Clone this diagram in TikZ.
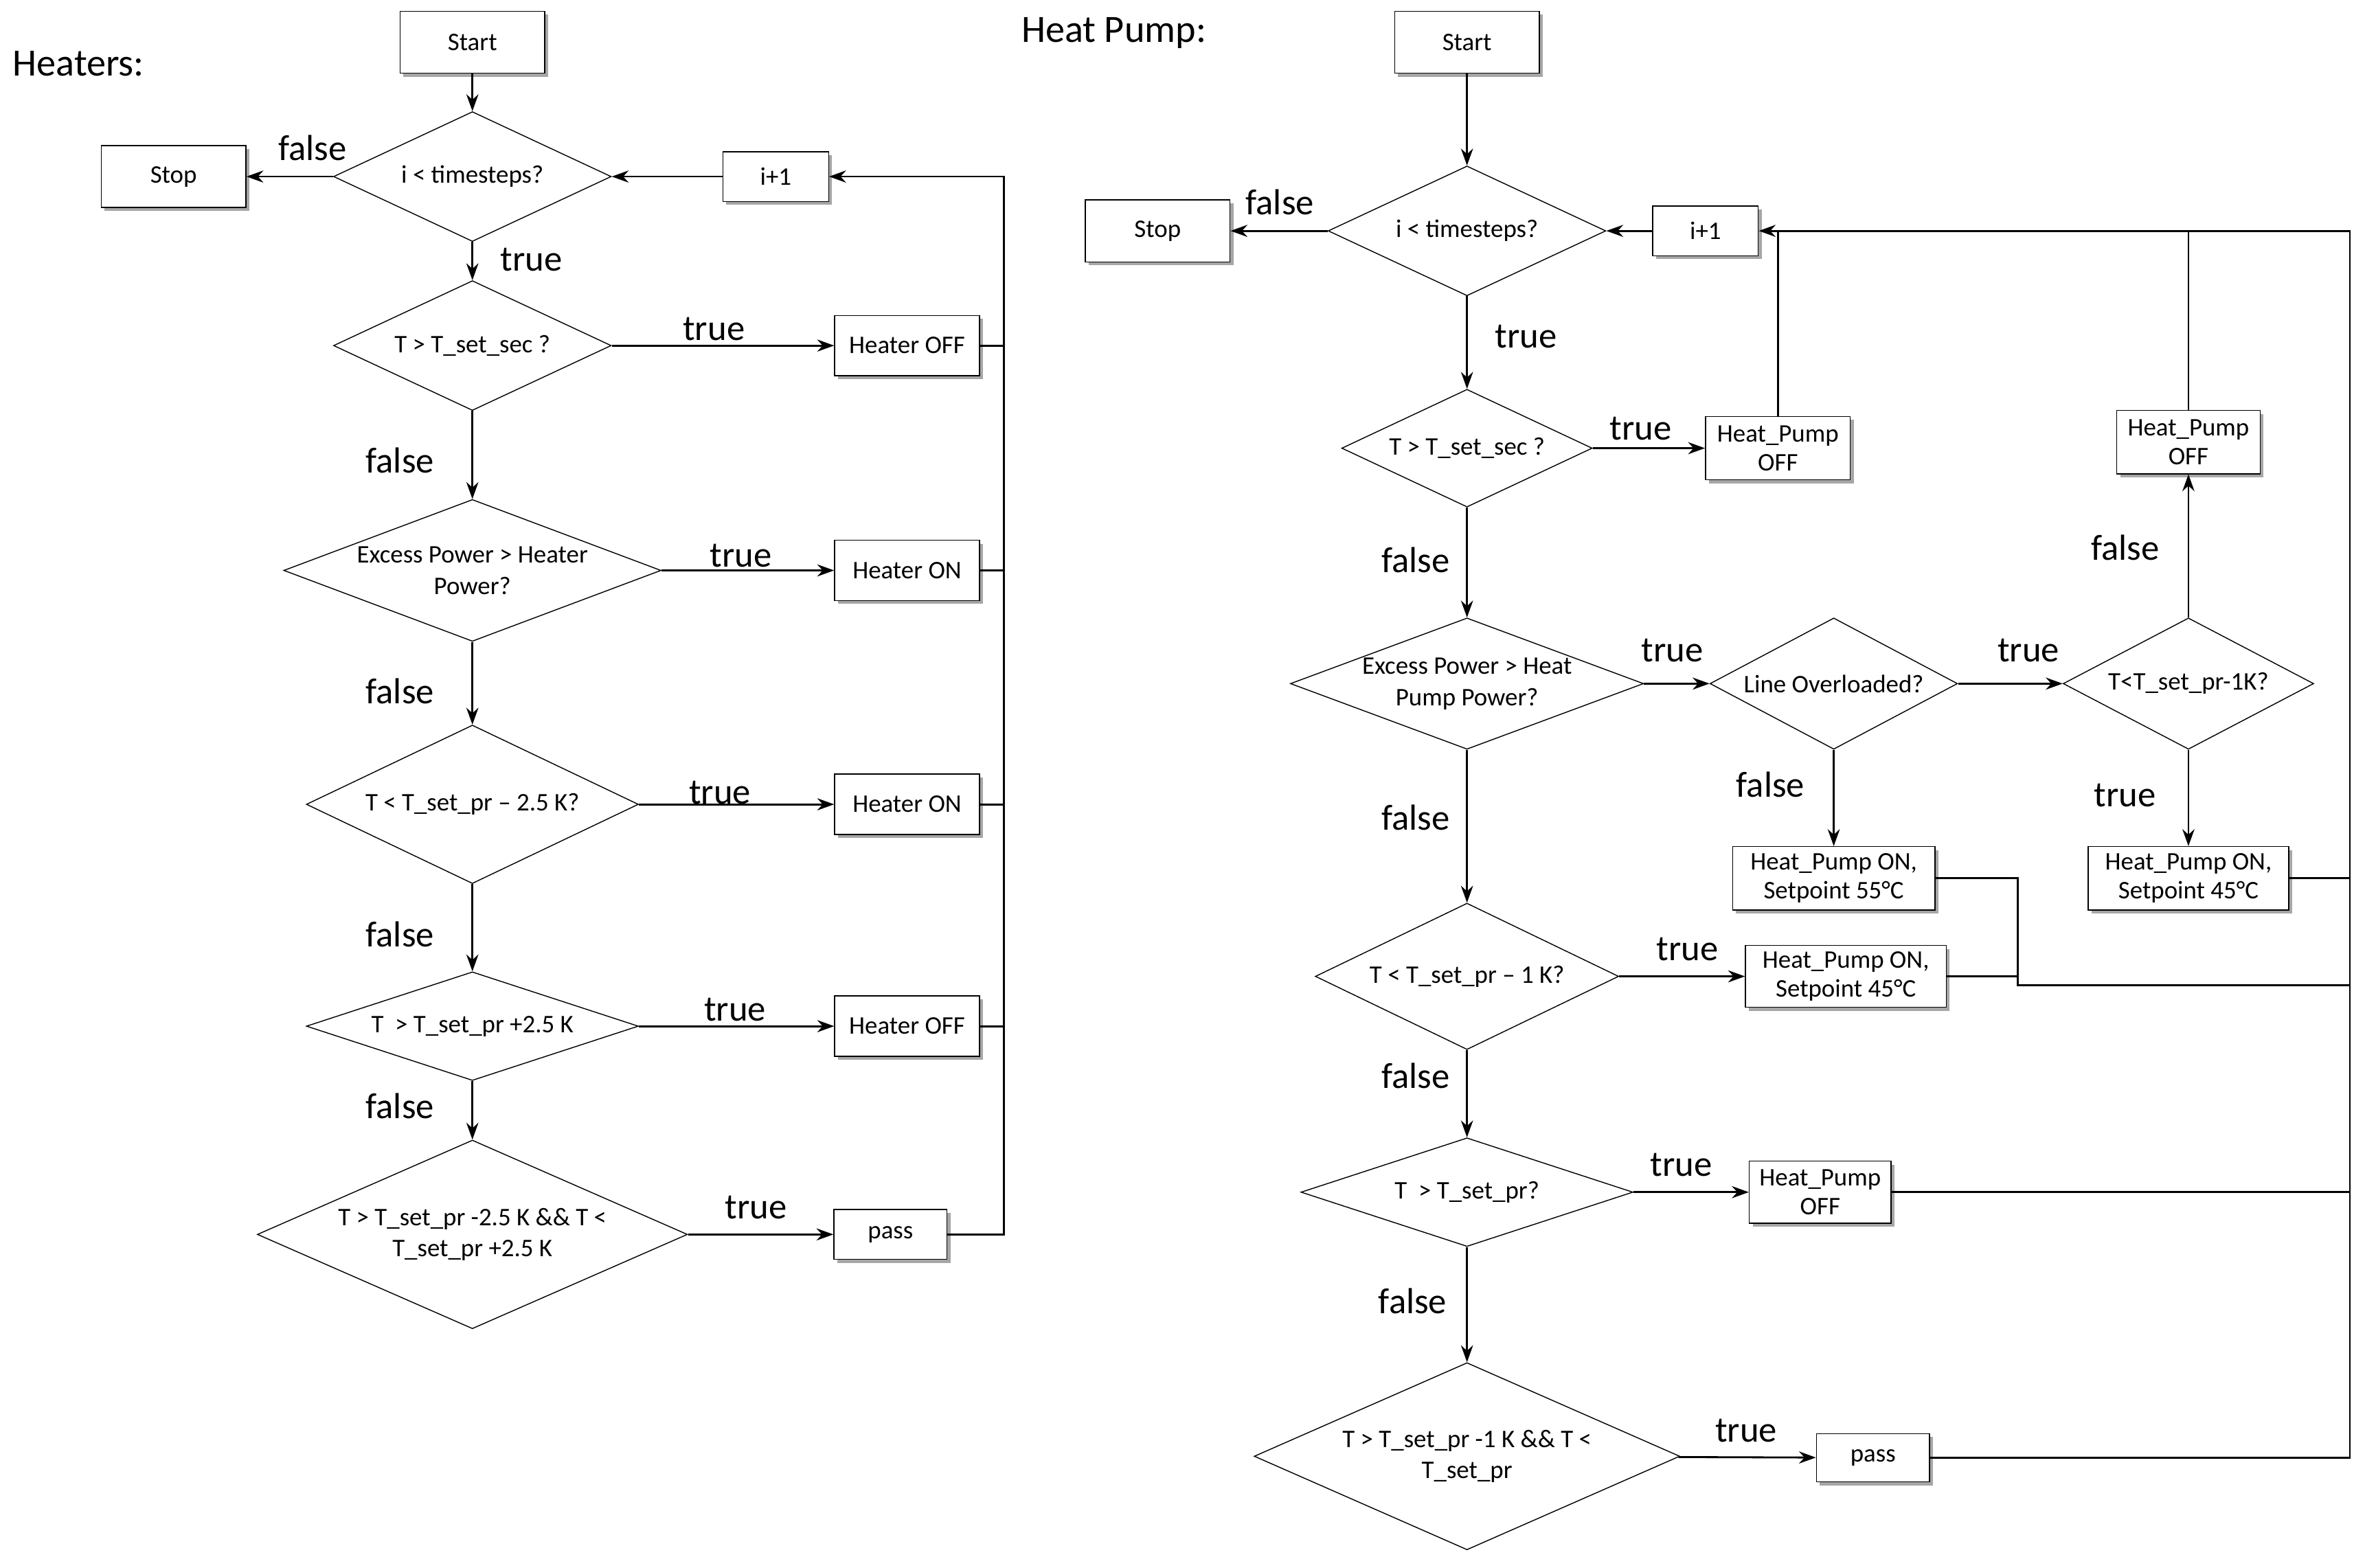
\documentclass[tikz,border=0pt]{standalone}
\usepackage{fontspec}
\setmainfont{Carlito}
\usetikzlibrary{shapes.geometric,shadows,arrows.meta}
\def\U{0.02197cm}
\begin{document}
\begin{tikzpicture}[x=0.02197cm,y=-0.02197cm,
 box/.style={draw,fill=white,font=\fontsize{10.5}{12}\selectfont,align=center,inner sep=0pt,
   drop shadow={shadow xshift=0.05cm,shadow yshift=-0.05cm,fill=gray!70,opacity=1}},
 dia/.style 2 args={draw,diamond,inner sep=0pt,font=\fontsize{10.5}{13}\selectfont,align=center,
   minimum width=#1*\U,minimum height=#2*\U,/utils/exec={\pgfmathsetmacro\myasp{#1/#2}},aspect=\myasp},
 lab/.style={font=\fontsize{15}{16}\selectfont},
 arr/.style={-{Stealth[length=7pt,width=5pt]},line width=0.8pt},
 ln/.style={line width=0.8pt}]
\useasboundingbox (0,0) rectangle (1567,1039);
\node[font=\fontsize{16}{18}\selectfont] (t1) at (52,42) {Heaters:};
\node[font=\fontsize{16}{18}\selectfont] (t2) at (738,22) {Heat Pump:};
% Left
\node[box,minimum width=96*\U,minimum height=41*\U] (ls) at (313,28) {Start};
\node[dia={184}{86}] (l1) at (313,117) {i < timesteps?};
\node[box,minimum width=96*\U,minimum height=41*\U] (lstop) at (115,117) {Stop};
\node[box,minimum width=70*\U,minimum height=33*\U] (li) at (514,117) {i+1};
\node[dia={184}{86}] (l2) at (313,229) {T > T\_set\_sec ?};
\node[box,minimum width=96*\U,minimum height=40*\U] (lb2) at (601,229) {Heater OFF};
\node[dia={250}{94}] (l3) at (313,378) {Excess Power > Heater\\Power?};
\node[box,minimum width=96*\U,minimum height=40*\U] (lb3) at (601,378) {Heater ON};
\node[dia={220}{105}] (l4) at (313,533) {T < T\_set\_pr – 2.5 K?};
\node[box,minimum width=96*\U,minimum height=40*\U] (lb4) at (601,533) {Heater ON};
\node[dia={220}{72}] (l5) at (313,680) {T \ > T\_set\_pr +2.5 K};
\node[box,minimum width=96*\U,minimum height=40*\U] (lb5) at (601,680) {Heater OFF};
\node[dia={285}{125}] (l6) at (313,818) {T > T\_set\_pr -2.5 K \&\& T <\\T\_set\_pr +2.5 K};
\node[box,minimum width=75*\U,minimum height=33*\U] (lp) at (590,818) {pass};
\coordinate (lr1) at (665,117);
\coordinate (lr2) at (665,818);
\draw[arr] (ls) -- (l1);
\draw[arr] (l1) -- (lstop);
\draw[arr] (li) -- (l1);
\draw[arr] (l1) -- (l2);
\draw[arr] (l2) -- (lb2);
\draw[arr] (l2) -- (l3);
\draw[arr] (l3) -- (lb3);
\draw[arr] (l3) -- (l4);
\draw[arr] (l4) -- (lb4);
\draw[arr] (l4) -- (l5);
\draw[arr] (l5) -- (lb5);
\draw[arr] (l5) -- (l6);
\draw[arr] (l6) -- (lp);
\draw[arr] (lp.east) -- (lr2) -- (lr1) -- (li);
\foreach \n in {lb2,lb3,lb4,lb5} \draw[ln] (\n.east) -- (lr1|-\n.east);
\node[lab] at (207,98) {false};
\node[lab] at (352,172) {true};
\node[lab] at (473,218) {true};
\node[lab] at (265,305) {false};
\node[lab] at (491,368) {true};
\node[lab] at (265,458) {false};
\node[lab] at (477,525) {true};
\node[lab] at (265,619) {false};
\node[lab] at (487,669) {true};
\node[lab] at (265,733) {false};
\node[lab] at (501,800) {true};
% Right
\node[box,minimum width=96*\U,minimum height=41*\U] (rs) at (972,28) {Start};
\node[dia={184}{86}] (r1) at (972,153) {i < timesteps?};
\node[box,minimum width=96*\U,minimum height=41*\U] (rstop) at (767,153) {Stop};
\node[box,minimum width=70*\U,minimum height=33*\U] (ri) at (1130,153) {i+1};
\node[dia={166}{78}] (r2) at (972,297) {T > T\_set\_sec ?};
\node[box,minimum width=96*\U,minimum height=42*\U] (rb2) at (1178,297) {Heat\_Pump\\OFF};
\node[dia={234}{87}] (r3) at (972,453) {Excess Power > Heat\\Pump Power?};
\node[dia={164}{87}] (rlo) at (1215,453) {Line Overloaded?};
\node[dia={166}{87}] (rt) at (1450,453) {T<T\_set\_pr-1K?};
\node[box,minimum width=95*\U,minimum height=42*\U] (rtoff) at (1450,293) {Heat\_Pump\\OFF};
\node[box,minimum width=133*\U,minimum height=42*\U] (rton) at (1450,582) {Heat\_Pump ON,\\Setpoint 45°C};
\node[box,minimum width=134*\U,minimum height=42*\U] (rlon) at (1215,582) {Heat\_Pump ON,\\Setpoint 55°C};
\node[dia={201}{97}] (r4) at (972,647) {T < T\_set\_pr – 1 K?};
\node[box,minimum width=133*\U,minimum height=41*\U] (rb4) at (1223,647) {Heat\_Pump ON,\\Setpoint 45°C};
\node[dia={220}{72}] (r5) at (972,790) {T \ > T\_set\_pr?};
\node[box,minimum width=94*\U,minimum height=41*\U] (rb5) at (1206,790) {Heat\_Pump\\OFF};
\node[dia={282}{124}] (r6) at (972,965) {T > T\_set\_pr -1 K \&\& T <\\T\_set\_pr};
\node[box,minimum width=75*\U,minimum height=32*\U] (rp) at (1241,966) {pass};
\coordinate (rr1) at (1557,153);
\coordinate (rr2) at (1557,966);
\coordinate (rj) at (1337,653);
\draw[arr] (rs) -- (r1);
\draw[arr] (r1) -- (rstop);
\draw[arr] (ri) -- (r1);
\draw[arr] (r1) -- (r2);
\draw[arr] (r2) -- (rb2);
\draw[arr] (r2) -- (r3);
\draw[arr] (r3) -- (rlo);
\draw[arr] (rlo) -- (rt);
\draw[arr] (rt) -- (rtoff);
\draw[arr] (rt) -- (rton);
\draw[arr] (rlo) -- (rlon);
\draw[arr] (r3) -- (r4);
\draw[arr] (r4) -- (rb4);
\draw[arr] (r4) -- (r5);
\draw[arr] (r5) -- (rb5);
\draw[arr] (r5) -- (r6);
\draw[arr] (r6) -- (rp);
\draw[arr] (rp.east) -- (rr2) -- (rr1) -- (ri);
\draw[ln] (rb2.north) -- (rb2.north|-rr1);
\draw[ln] (rtoff.north) -- (rtoff.north|-rr1);
\draw[ln] (rton.east) -- (rr1|-rton.east);
\draw[ln] (rlon.east) -- (rj|-rlon.east) -- (rj) -- (rr1|-rj);
\draw[ln] (rb4.east) -- (rj|-rb4.east);
\draw[ln] (rb5.east) -- (rr1|-rb5.east);
\node[lab] at (848,134) {false};
\node[lab] at (1011,223) {true};
\node[lab] at (1087,284) {true};
\node[lab] at (938,371) {false};
\node[lab] at (1108,431) {true};
\node[lab] at (1344,431) {true};
\node[lab] at (1408,363) {false};
\node[lab] at (1173,520) {false};
\node[lab] at (1408,527) {true};
\node[lab] at (938,542) {false};
\node[lab] at (1118,629) {true};
\node[lab] at (938,713) {false};
\node[lab] at (1114,772) {true};
\node[lab] at (936,862) {false};
\node[lab] at (1157,948) {true};
\end{tikzpicture}
\end{document}
